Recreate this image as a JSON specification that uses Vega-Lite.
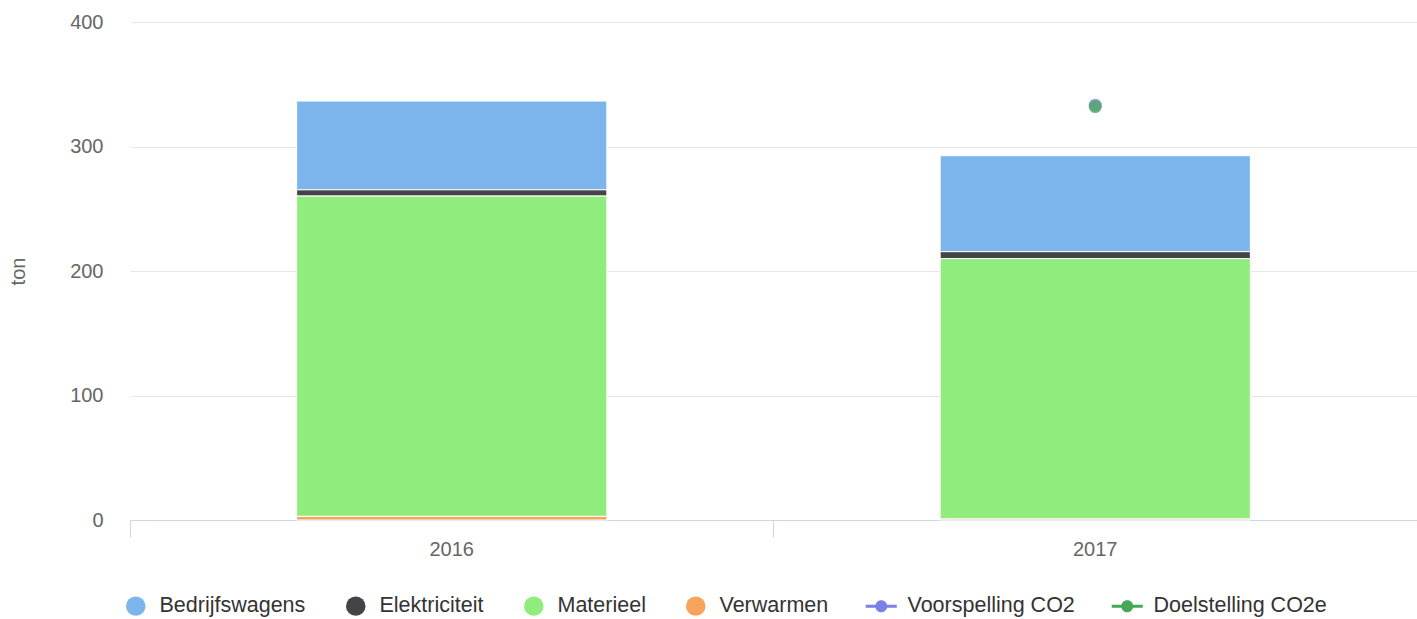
{
  "$schema": "https://vega.github.io/schema/vega-lite/v6.json",
  "autosize": "none",
  "width": 1287,
  "height": 498,
  "padding": {"left": 130, "top": 22, "right": 0, "bottom": 99},
  "background": "white",
  "config": {"view": {"stroke": null}, "font": "Liberation Sans"},
  "datasets": {
    "bars": [
      {"year": "2016", "series": "Bedrijfswagens", "value": 71.3},
      {"year": "2016", "series": "Elektriciteit", "value": 5.0},
      {"year": "2016", "series": "Materieel", "value": 257.3},
      {"year": "2016", "series": "Verwarmen", "value": 2.9},
      {"year": "2017", "series": "Bedrijfswagens", "value": 77.1},
      {"year": "2017", "series": "Elektriciteit", "value": 5.5},
      {"year": "2017", "series": "Materieel", "value": 209.2},
      {"year": "2017", "series": "Verwarmen", "value": 0.8}
    ],
    "targets": [
      {"year": "2017", "series": "Voorspelling CO2", "value": 333.2},
      {"year": "2017", "series": "Doelstelling CO2e", "value": 332.1}
    ]
  },
  "layer": [
    {
      "data": {"name": "bars"},
      "mark": {"type": "bar", "stroke": "white", "strokeWidth": 1, "width": {"band": 0.482}},
      "encoding": {
        "x": {
          "field": "year", "type": "nominal",
          "scale": {"paddingInner": 0, "paddingOuter": 0},
          "axis": {
            "title": null, "labelAngle": 0, "labelFontSize": 20, "labelColor": "#666666",
            "domainColor": "#ccd6eb", "domainWidth": 1, "tickColor": "#ccd6eb", "tickSize": 17,
            "bandPosition": 0, "labelPadding": 2, "grid": false
          }
        },
        "y": {
          "field": "value", "type": "quantitative", "aggregate": "sum",
          "scale": {"domain": [0, 400], "nice": false},
          "axis": {
            "title": "ton", "titleFontSize": 20, "titleColor": "#666666", "titleFontWeight": "normal",
            "titleX": -112, "titleY": 249, "titleAngle": -90, "titleBaseline": "middle", "titleAlign": "center",
            "labelFontSize": 20, "labelColor": "#666666", "domain": false, "ticks": false, "tickSize": 0,
            "labelPadding": 27, "gridColor": "#e6e6e6", "values": [0, 100, 200, 300, 400]
          }
        },
        "color": {
          "field": "series", "type": "nominal",
          "scale": {
            "domain": ["Bedrijfswagens", "Elektriciteit", "Materieel", "Verwarmen"],
            "range": ["#7cb5ec", "#434348", "#90ed7d", "#f7a35c"]
          },
          "legend": {
            "orient": "none", "legendX": -5, "legendY": 573, "direction": "horizontal", "title": null,
            "symbolType": "circle", "symbolSize": 380, "symbolStrokeWidth": 0, "labelFontSize": 21.5,
            "labelColor": "#333333", "labelOffset": 13, "columnPadding": 39, "labelLimit": 400
          }
        },
        "order": {"field": "series", "sort": "descending"}
      }
    },
    {
      "data": {"name": "targets"},
      "mark": {"type": "point", "filled": true, "size": 170, "opacity": 0.75},
      "encoding": {
        "x": {"field": "year", "type": "nominal"},
        "y": {"field": "value", "type": "quantitative"},
        "fill": {
          "field": "series", "type": "nominal",
          "scale": {
            "domain": ["Voorspelling CO2", "Doelstelling CO2e"],
            "range": ["#7a80e6", "#45a857"]
          },
          "legend": {
            "orient": "none", "legendX": 740.5, "legendY": 573, "direction": "horizontal", "title": null,
            "symbolType": "M-3.1,-0.3L3.1,-0.3L3.1,0.3L-3.1,0.3Z M1.2,0A1.2,1.2,0,1,1,-1.2,0A1.2,1.2,0,1,1,1.2,0Z",
            "symbolSize": 100, "symbolStrokeWidth": 0, "symbolOpacity": 1, "labelFontSize": 21.5,
            "labelColor": "#333333", "labelOffset": 15.5, "columnPadding": 36, "labelLimit": 400
          }
        }
      }
    }
  ]
}
